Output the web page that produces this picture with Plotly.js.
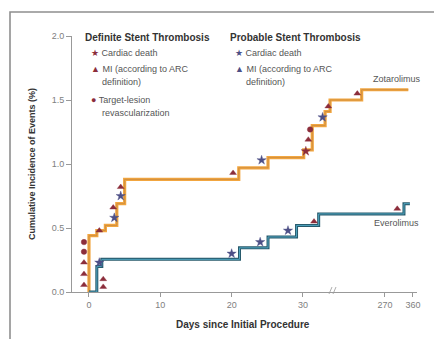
<!DOCTYPE html>
<html>
<head>
<meta charset="utf-8">
<script src="https://cdn.plot.ly/plotly-3.0.1.min.js"></script>
<style>
  html, body { margin: 0; padding: 0; background: #ffffff; }
  #chart { width: 434px; height: 339px; }
</style>
</head>
<body>
<div id="chart"></div>
<script>
// ---- Data (days since procedure, cumulative incidence %) ----
const zotDays = [0, 0, 1.1, 2.3, 3.9, 5.0, 21.0, 25.1, 30.1, 31.3, 33.1, 33.8, 195, 345];
const zotVals = [0, 0.44, 0.48, 0.52, 0.69, 0.88, 0.97, 1.05, 1.11, 1.30, 1.41, 1.50, 1.58, 1.58];

const everDays = [0, 1.1, 1.8, 21.1, 25.1, 29.1, 32.2, 331, 350];
const everVals = [0, 0.20, 0.255, 0.345, 0.43, 0.52, 0.61, 0.69, 0.69];

// Definite stent thrombosis events
const defDeathDays = [30.4];
const defDeathVals = [1.10];
const defMIDays = [-0.7, -0.7, -0.7, 1.45, 3.4, 4.45, 20.2, 30.75, 33.55, 181, 2.0, 2.0, 31.55, 309.5];
const defMIVals = [0.055, 0.14, 0.23, 0.48, 0.66, 0.82, 0.93, 1.19, 1.45, 1.55, 0.10, 0.04, 0.55, 0.65];
const defTLRDays = [-0.7, -0.7, 31.0];
const defTLRVals = [0.315, 0.39, 1.27];

// Probable stent thrombosis events
const probDeathDays = [3.55, 4.45, 24.2, 32.75, 1.45, 20.0, 24.0, 27.9];
const probDeathVals = [0.58, 0.75, 1.03, 1.365, 0.23, 0.30, 0.39, 0.48];

const xTicks1 = [0, 10, 20, 30];
const xTicks2 = [270, 360];
const yTicks = [0, 0.5, 1.0, 1.5, 2.0];
const yTickText = ["0.0", "0.5", "1.0", "1.5", "2.0"];

// ---- Styles ----
const FONT = "Liberation Sans, Arial, sans-serif";
const RED = "#8c2d3b";
const BLUE = "#4d4f86";
const ORANGE = "#f2a640";
const ORANGE_IN = "#c98a3e";
const TEAL_OUT = "#27596b";
const TEAL_IN = "#4fa4bf";

const traces = [];
function addBoth(t) {
  traces.push(Object.assign({}, t, {xaxis: "x", yaxis: "y"}));
  traces.push(Object.assign({}, t, {xaxis: "x2", yaxis: "y"}));
}
function stepLine(x, y, color, width) {
  addBoth({type: "scatter", mode: "lines", x: x, y: y,
    line: {shape: "hv", color: color, width: width}, hoverinfo: "skip", showlegend: false});
}
stepLine(zotDays, zotVals, ORANGE, 3.2);
stepLine(zotDays, zotVals, ORANGE_IN, 0.8);
stepLine(everDays, everVals, TEAL_OUT, 3.0);
stepLine(everDays, everVals, TEAL_IN, 1.0);

function markers(x, y, symbol, color, size) {
  addBoth({type: "scatter", mode: "markers", x: x, y: y,
    marker: {symbol: symbol, color: color, size: size, line: {color: color, width: 0.4}},
    hoverinfo: "skip", showlegend: false});
}
markers(defMIDays, defMIVals, "triangle-up", RED, 6);
markers(defTLRDays, defTLRVals, "circle", RED, 5.5);
markers(defDeathDays, defDeathVals, "star", RED, 7);
markers(probDeathDays, probDeathVals, "star", BLUE, 7);

// plot area: left 72, right 417, top 36, bottom 292
const L = 72, R = 417, T = 36, B = 292;
const W = R - L, H = B - T;
const px = v => (v - L) / W;
const py = v => (B - v) / H;
const split = px(337);

const tickFont = {family: FONT, size: 9, color: "#808080"};

function ann(text, x, y, opts) {
  return Object.assign({text: text, xref: "paper", yref: "paper", x: px(x), y: py(y),
    xanchor: "left", yanchor: "middle", showarrow: false,
    font: {family: FONT, size: 9, color: "#555"}}, opts || {});
}
const r = s => '<span style="color:' + RED + '">' + s + '</span>';
const b = s => '<span style="color:' + BLUE + '">' + s + '</span>';
const headFont = {family: FONT, size: 10, color: "#333"};

const annotations = [
  ann("<b>Definite Stent Thrombosis</b>", 83, 37, {font: headFont}),
  ann(r("★") + " Cardiac death", 89, 53),
  ann(r("▲") + " MI (according to ARC", 89, 69),
  ann("definition)", 100, 82),
  ann(r("●") + " Target-lesion", 89, 100),
  ann("revascularization", 100, 113),
  ann("<b>Probable Stent Thrombosis</b>", 228, 37, {font: headFont}),
  ann(b("★") + " Cardiac death", 233, 53),
  ann(b("▲") + " MI (according to ARC", 233, 69),
  ann("definition)", 244, 82),
  ann("Zotarolimus", 397, 79, {xanchor: "center"}),
  ann("Everolimus", 396, 223, {xanchor: "center"}),
  ann("<b>Days since Initial Procedure</b>", 243, 324, {xanchor: "center", font: headFont}),
  ann("<b>Cumulative Incidence of Events (%)</b>", 32, 164,
      {xanchor: "center", textangle: -90, font: {family: FONT, size: 9, color: "#333"}})
];

const shapes = [
  // outer frame
  {type: "rect", xref: "paper", yref: "paper", x0: px(10), x1: px(445), y0: py(350), y1: py(12),
   line: {color: "#8f8f8f", width: 1.6}, fillcolor: "rgba(0,0,0,0)", layer: "below"},
  // axis break marks
  {type: "line", xref: "paper", yref: "paper", x0: px(329), x1: px(332), y0: py(294), y1: py(287),
   line: {color: "#999", width: 0.8}},
  {type: "line", xref: "paper", yref: "paper", x0: px(333), x1: px(336), y0: py(294), y1: py(287),
   line: {color: "#999", width: 0.8}}
];

const axisCommon = {showgrid: false, zeroline: false, showline: true, linecolor: "#999", linewidth: 1,
  ticks: "outside", ticklen: 4, tickcolor: "#999", tickfont: tickFont, fixedrange: true};

const layout = {
  width: 434, height: 339,
  margin: {l: L, r: 434 - R, t: T, b: 339 - B},
  paper_bgcolor: "#ffffff", plot_bgcolor: "#ffffff",
  showlegend: false,
  xaxis: Object.assign({}, axisCommon, {domain: [0, split], range: [-2.38, 34.77], tickvals: xTicks1, anchor: "y"}),
  xaxis2: Object.assign({}, axisCommon, {domain: [split, 1], range: [115.7, 372.9], tickvals: xTicks2, anchor: "y"}),
  yaxis: Object.assign({}, axisCommon, {range: [0, 2], tickvals: yTicks, ticktext: yTickText, ticklen: 5, anchor: "x"}),
  annotations: annotations,
  shapes: shapes
};

Plotly.newPlot("chart", traces, layout, {displayModeBar: false, staticPlot: true});
</script>
</body>
</html>
